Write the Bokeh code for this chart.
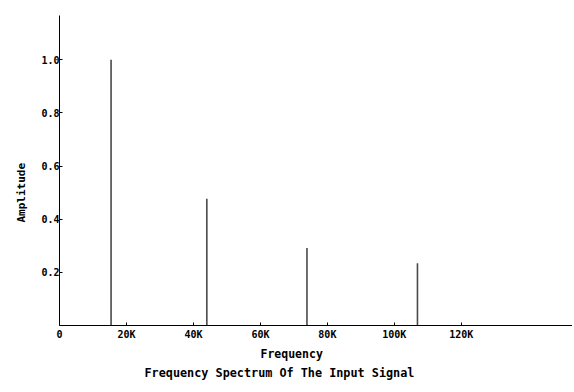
from bokeh.plotting import figure
from bokeh.models import Range1d, FixedTicker, Title
from bokeh.embed import file_html
from bokeh.resources import INLINE

# Data
freqs_k = [15.4, 44.0, 73.9, 106.9]          # frequency, kHz
amps = [1.0, 0.477, 0.292, 0.234]            # amplitude
x_ticks = [0, 20000, 40000, 60000, 80000, 100000, 120000]
x_tick_labels = ["0", "20K", "40K", "60K", "80K", "100K", "120K"]
y_ticks = [0.2, 0.4, 0.6, 0.8, 1.0]
y_tick_labels = ["0.2", "0.4", "0.6", "0.8", "1.0"]

FONT = "DejaVu Sans Mono"

p = figure(width=572, height=390, output_backend="svg", toolbar_location=None,
           x_range=Range1d(0, 153200), y_range=Range1d(0, 1.167),
           min_border_left=59, min_border_right=0, min_border_top=15, min_border_bottom=65)
p.outline_line_color = None
p.grid.visible = False
p.background_fill_color = "white"
p.border_fill_color = "white"

freqs = [f * 1000 for f in freqs_k]
p.segment(x0=freqs, y0=[0] * len(freqs), x1=freqs, y1=amps,
          line_color="#4a4a4a", line_width=1.6)

for ax in (p.xaxis[0], p.yaxis[0]):
    ax.axis_line_color = "black"
    ax.axis_line_width = 1
    ax.major_tick_in = 3
    ax.major_tick_out = 0
    ax.minor_tick_line_color = None
    ax.major_label_text_font = FONT
    ax.major_label_text_font_style = "bold"
    ax.major_label_text_font_size = "10px"
    ax.major_label_text_color = "black"
    ax.major_tick_line_color = "black"

p.xaxis.ticker = FixedTicker(ticks=x_ticks)
p.xaxis.major_label_overrides = {t: l for t, l in zip(x_ticks, x_tick_labels)}
p.xaxis.major_label_standoff = 3
p.yaxis.ticker = FixedTicker(ticks=y_ticks)
p.yaxis.major_label_overrides = {t: l for t, l in zip(y_ticks, y_tick_labels)}
p.yaxis.major_label_standoff = 0

tstyle = dict(text_font=FONT, text_font_style="bold", text_color="black",
              align="left")
p.add_layout(Title(text="Frequency", text_font_size="11.5px", offset=201,
                   standoff=5, **tstyle), "below")
p.add_layout(Title(text="Frequency Spectrum Of The Input Signal", text_font_size="11.8px",
                   offset=85, standoff=1, **tstyle), "below")
p.add_layout(Title(text="Amplitude", text_font_size="11px", offset=103,
                   standoff=21, **tstyle), "left")

open("out.html", "w").write(file_html(p, INLINE))
